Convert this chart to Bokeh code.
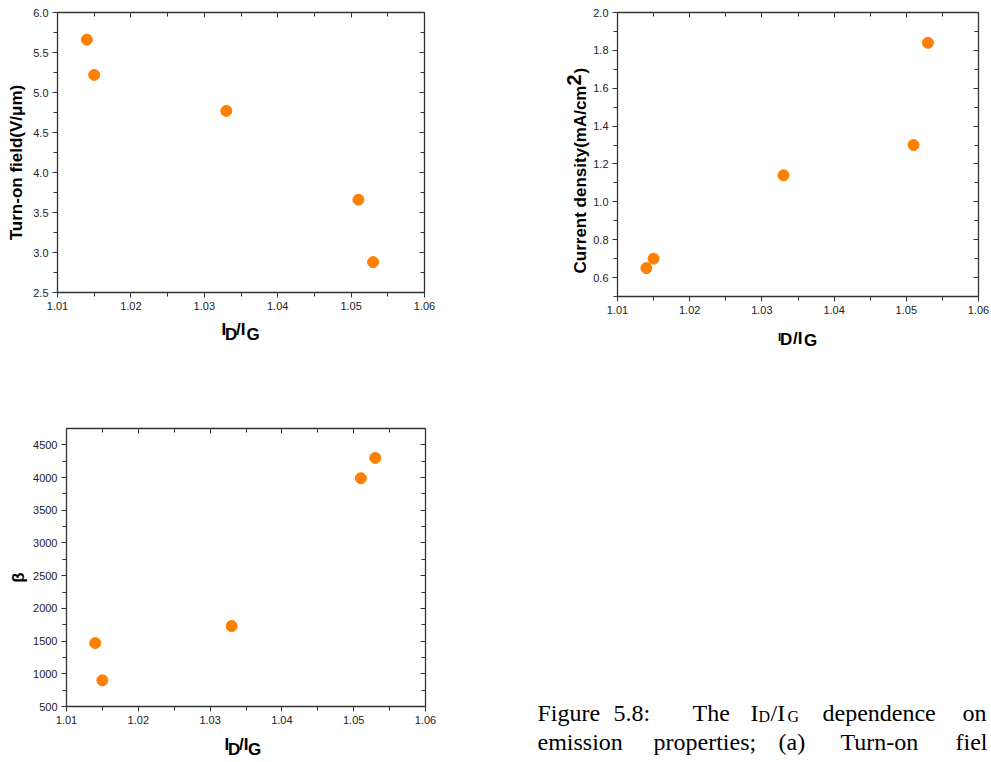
import math
from bokeh.plotting import figure
from bokeh.layouts import column, row
from bokeh.models import LinearAxis, FixedTicker, PrintfTickFormatter, Range1d
from bokeh.core.properties import value
from bokeh.embed import file_html
from bokeh.resources import INLINE

# ---------------- data ----------------
id_ig = [1.014, 1.015, 1.033, 1.051, 1.053]
turn_on_field = [5.66, 5.22, 4.77, 3.66, 2.88]
current_density = [0.65, 0.70, 1.14, 1.30, 1.84]
beta = [1470, 900, 1730, 3990, 4300]

x_ticks = [1.01, 1.02, 1.03, 1.04, 1.05, 1.06]
x_minor = [1.015, 1.025, 1.035, 1.045, 1.055]
a_ticks = [2.5, 3.0, 3.5, 4.0, 4.5, 5.0, 5.5, 6.0]
a_minor = [2.75, 3.25, 3.75, 4.25, 4.75, 5.25, 5.75]
b_ticks = [0.6, 0.8, 1.0, 1.2, 1.4, 1.6, 1.8, 2.0]
b_minor = [0.5, 0.7, 0.9, 1.1, 1.3, 1.5, 1.7, 1.9]
c_ticks = [500, 1000, 1500, 2000, 2500, 3000, 3500, 4000, 4500]
c_minor = [750, 1250, 1750, 2250, 2750, 3250, 3750, 4250]

caption_line1 = ["Figure", "5.8:", "The", "dependence", "on"]
caption_line2 = ["emission", "properties;", "(a)", "Turn-on", "fiel"]

# ---------------- style ----------------
AX = "#333333"
ORANGE = "#ff8000"
SANS = "Liberation Sans"
SERIF = "Liberation Serif"
BASE_FIX = 0.33  # empirical correction of the alphabetic baseline (fraction of font size)


def base_fig(w, h, xr, yr, left=0, top=0, right=0, bottom=0):
    p = figure(width=w, height=h, x_range=Range1d(*xr), y_range=Range1d(*yr),
               output_backend="svg", toolbar_location=None, title=None,
               x_axis_type=None, y_axis_type=None,
               min_border_left=left, min_border_top=top,
               min_border_right=right, min_border_bottom=bottom)
    p.frame_align = False
    p.outline_line_color = None
    p.background_fill_color = "white"
    p.border_fill_color = "white"
    return p


class Strip:
    """A blank figure whose frame is the whole strip; positions in page pixels."""

    def __init__(self, x0, y0, w, h):
        self.x0, self.y0, self.w, self.h = x0, y0, w, h
        self.p = base_fig(w, h, (0, w), (0, h))

    def text(self, ix, iy, s, size, font=SANS, bold=True, angle=0.0,
             align="left", baseline="alphabetic"):
        if baseline == "alphabetic":
            d = BASE_FIX * float(size.replace("px", ""))
            if angle:
                ix -= d
            else:
                iy -= d
        self.p.text(x=[ix - self.x0], y=[self.y0 + self.h - iy], text=[s],
                    text_font=value(font), text_font_style="bold" if bold else "normal",
                    text_font_size=value(size), text_color="black", angle=angle,
                    text_align=align, text_baseline=baseline)


def make_axis(ticks, minor, fmt, inward):
    ax = LinearAxis(ticker=FixedTicker(ticks=ticks, minor_ticks=minor),
                    formatter=PrintfTickFormatter(format=fmt))
    ax.axis_line_color = AX
    ax.axis_line_width = 1.3
    ax.major_tick_line_color = AX
    ax.minor_tick_line_color = AX
    if inward:
        ax.major_tick_in, ax.major_tick_out = 5, 0
        ax.minor_tick_in, ax.minor_tick_out = 4, 0
        ax.major_label_text_font_size = "0px"
        ax.major_label_text_color = None
        ax.major_label_standoff = 0
    else:
        ax.major_tick_in, ax.major_tick_out = 0, 5
        ax.minor_tick_in, ax.minor_tick_out = 0, 4
        ax.major_label_text_font = SANS
        ax.major_label_text_font_size = "11px"
        ax.major_label_text_color = "#222222"
        ax.major_label_standoff = 4
    return ax


def make_panel(x0, y0, w, h, fl, ft, fw, fh, yr, yt, ym, yfmt, yvals):
    p = base_fig(w, h, (1.01, 1.06), yr,
                 left=fl - x0, top=ft - y0, right=x0 + w - fl - fw, bottom=y0 + h - ft - fh)
    p.add_layout(make_axis(x_ticks, x_minor, "%.2f", False), "below")
    p.add_layout(make_axis(yt, ym, yfmt, False), "left")
    p.add_layout(make_axis(x_ticks, x_minor, "%.2f", True), "above")
    p.add_layout(make_axis(yt, ym, yfmt, True), "right")
    p.scatter(id_ig, yvals, size=11, color=ORANGE, line_color=ORANGE)
    return p


# ---- panel (a) ----
pa = make_panel(30, 0, 530, 318, 57, 12, 367, 280, (2.5, 6.0), a_ticks, a_minor, "%.1f", turn_on_field)
ya = Strip(0, 0, 30, 318)
ya.text(22, 162, "Turn-on field(V/\u03bcm)", "17px", angle=math.pi / 2, align="center")
xa = Strip(0, 318, 560, 92)
xa.text(221, 335, "I", "17px")
xa.text(224.5, 340, "D", "17px")
xa.text(235.5, 335, "/I", "17px")
xa.text(246, 340, "G", "17px")

# ---- panel (b) ----
pb = make_panel(590, 0, 401, 322, 616, 12, 362, 284, (0.5, 2.0), b_ticks, b_minor, "%.1f", current_density)
yb = Strip(560, 0, 30, 322)
yb.text(586, 273, "Current density(mA/cm", "17px", angle=math.pi / 2)
yb.text(580, 85, "2", "20px", angle=math.pi / 2)
yb.text(586, 73, ")", "17px", angle=math.pi / 2)
xb = Strip(560, 322, 431, 88)
xb.text(777.6, 340, "I", "11px")
xb.text(779.5, 345, "D", "17px")
xb.text(792.5, 344, "/I", "17px")
xb.text(803.5, 346, "G", "17px")

# ---- panel (c) ----
pc = make_panel(30, 410, 490, 322, 64, 428, 361, 278, (500, 4750), c_ticks, c_minor, "%d", beta)
yc = Strip(0, 410, 30, 322)
yc.text(18, 577, "\u03b2", "17px", angle=math.pi / 2, align="center", baseline="middle")
xc = Strip(0, 732, 520, 30)
xc.text(224, 750, "I", "17px")
xc.text(227.5, 755, "D", "17px")
xc.text(238.5, 750, "/I", "17px")
xc.text(247.5, 755, "G", "17px")

# ---- caption ----
cap = Strip(520, 410, 471, 352)
line1_x = [537, 613, 692, 822, 962]
line2_x = [537, 653, 778, 840, 955]
base1, base2 = 720, 749
for wd, x in zip(caption_line1, line1_x):
    cap.text(x, base1, wd, "24px", font=SERIF, bold=False)
for wd, x in zip(caption_line2, line2_x):
    cap.text(x, base2, wd, "24px", font=SERIF, bold=False)
for t, x, dy, fs in zip(["I", "D", "/I", "G"], [750, 758, 770, 787], [0, 4, 0, 4],
                        ["24px", "16px", "24px", "16px"]):
    # subscripts share the main line's baseline correction
    d = BASE_FIX * (24 - float(fs.replace("px", "")))
    cap.text(x, base1 + dy - d, t, fs, font=SERIF, bold=False)

layout = column(
    row(column(row(ya.p, pa), xa.p), column(row(yb.p, pb), xb.p)),
    row(column(row(yc.p, pc), xc.p), cap.p),
)
open("out.html", "w").write(file_html(layout, INLINE))
